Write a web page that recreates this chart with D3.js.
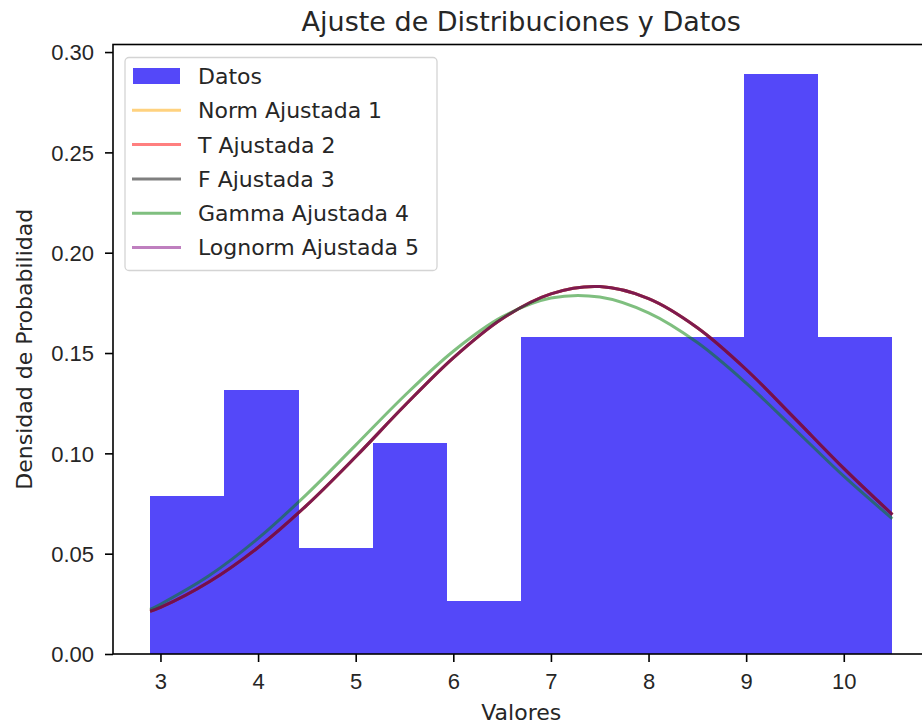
<!doctype html>
<html>

<head>
  <meta charset="UTF-8" />
  <title>Ajuste de Distribuciones y Datos</title>
  <style>
    html,
    body {
      margin: 0;
      background: #fff;
    }

    svg {
      font-family: "DejaVu Sans", sans-serif;
      display: block;
    }

    .axis path,
    .axis line {
      stroke: #000;
      stroke-width: 1.6px;
    }

    .axis text {
      fill: #262626;
      font-size: 22px;
    }
  </style>
</head>

<body>
  <script src="https://cdn.jsdelivr.net/npm/d3@7"></script>
  <script>
    // data
    const binEdges = [2.894, 3.654, 4.415, 5.175, 5.936, 6.696, 7.457, 8.217, 8.977, 9.738, 10.498];
    const density = [0.0789, 0.1315, 0.0526, 0.1052, 0.0263, 0.1578, 0.1578, 0.1578, 0.2893, 0.1578];

    const fitX = [2.894, 3.0, 3.5, 4.0, 4.5, 5.0, 5.5, 6.0, 6.5, 7.0, 7.5, 8.0, 8.5, 9.0, 9.5, 10.0, 10.498];
    // norm, t, F and lognorm fits land on top of each other in the picture
    const fitNorm = [0.0213, 0.0232, 0.0360, 0.0531, 0.0742, 0.0983, 0.1237, 0.1476, 0.1671, 0.1795, 0.1831, 0.1771, 0.1626, 0.1418, 0.1173, 0.0925, 0.0695];
    const fitT = fitNorm;
    const fitF = fitNorm;
    const fitLognorm = fitNorm;
    const fitGamma = [0.0222, 0.0248, 0.0391, 0.0576, 0.0797, 0.1041, 0.1287, 0.1509, 0.1680, 0.1774, 0.1779, 0.1700, 0.1552, 0.1350, 0.1119, 0.0886, 0.0674];

    const seriesNames = ['Norm Ajustada 1', 'T Ajustada 2', 'F Ajustada 3', 'Gamma Ajustada 4', 'Lognorm Ajustada 5'];
    const seriesValues = [fitNorm, fitT, fitF, fitGamma, fitLognorm];
    const seriesColors = ['orange', 'red', 'black', 'green', 'purple'];

    const yTicks = [0, 0.05, 0.10, 0.15, 0.20, 0.25, 0.30];
    const xTicks = [3, 4, 5, 6, 7, 8, 9, 10];

    // view
    const width = 922, height = 726;
    const barColor = '#5448f9';

    const svg = d3.select('body').append('svg')
      .attr('width', width)
      .attr('height', height);

    const xMin = binEdges[0], xMax = binEdges[binEdges.length - 1];
    const xPad = (xMax - xMin) * 0.05;
    const yMax = d3.max(density) * 1.05;

    // plot box, the right edge runs past the picture like in the original
    const box = { left: 113, right: 929.5, top: 44.5, bottom: 654 };

    const x = d3.scaleLinear()
      .domain([xMin - xPad, xMax + xPad])
      .range([box.left, box.right]);

    const y = d3.scaleLinear()
      .domain([0, yMax])
      .range([box.bottom, box.top]);

    // histogram bars
    svg.append('g')
      .attr('shape-rendering', 'crispEdges')
      .selectAll('rect')
      .data(density)
      .join('rect')
      .attr('x', (d, i) => x(binEdges[i]))
      .attr('width', (d, i) => x(binEdges[i + 1]) - x(binEdges[i]))
      .attr('y', d => y(d))
      .attr('height', d => y(0) - y(d))
      .attr('fill', barColor);

    // fitted curves
    const line = d3.line()
      .x((d, i) => x(fitX[i]))
      .y(d => y(d))
      .curve(d3.curveCatmullRom);

    svg.append('g')
      .selectAll('path')
      .data(seriesValues)
      .join('path')
      .attr('d', line)
      .attr('fill', 'none')
      .attr('stroke', (d, i) => seriesColors[i])
      .attr('stroke-opacity', 0.5)
      .attr('stroke-width', 3);

    // axes
    const xAxis = svg.append('g')
      .attr('class', 'axis')
      .attr('transform', `translate(0,${box.bottom})`)
      .call(d3.axisBottom(x).tickValues(xTicks).tickFormat(d3.format('d'))
        .tickSize(8).tickPadding(11).tickSizeOuter(0));
    xAxis.select('.domain').remove();

    const yAxis = svg.append('g')
      .attr('class', 'axis')
      .attr('transform', `translate(${box.left},0)`)
      .call(d3.axisLeft(y).tickValues(yTicks).tickFormat(d3.format('.2f'))
        .tickSize(8).tickPadding(11).tickSizeOuter(0));
    yAxis.select('.domain').remove();
    yAxis.selectAll('text').attr('dy', '0.36em');

    // spines
    svg.append('rect')
      .attr('x', box.left)
      .attr('y', box.top)
      .attr('width', box.right - box.left)
      .attr('height', box.bottom - box.top)
      .attr('fill', 'none')
      .attr('stroke', '#000')
      .attr('stroke-width', 1.6);

    // labels
    svg.append('text')
      .attr('x', (box.left + box.right) / 2)
      .attr('y', 31)
      .attr('text-anchor', 'middle')
      .attr('font-size', 27)
      .attr('fill', '#262626')
      .text('Ajuste de Distribuciones y Datos');

    svg.append('text')
      .attr('x', (box.left + box.right) / 2)
      .attr('y', 720)
      .attr('text-anchor', 'middle')
      .attr('font-size', 22)
      .attr('fill', '#262626')
      .text('Valores');

    svg.append('text')
      .attr('transform', `translate(32,${(box.top + box.bottom) / 2}) rotate(-90)`)
      .attr('text-anchor', 'middle')
      .attr('font-size', 22)
      .attr('fill', '#262626')
      .text('Densidad de Probabilidad');

    // legend
    const legend = svg.append('g');
    legend.append('rect')
      .attr('x', 125)
      .attr('y', 57.5)
      .attr('width', 312)
      .attr('height', 213)
      .attr('rx', 4)
      .attr('fill', '#fff')
      .attr('fill-opacity', 0.8)
      .attr('stroke', '#d4d4d4')
      .attr('stroke-width', 1.3);

    const rowY = i => 76 + i * 34.3;
    const legendItems = ['Datos'].concat(seriesNames);

    legend.append('rect')
      .attr('x', 133)
      .attr('y', rowY(0) - 8)
      .attr('width', 47)
      .attr('height', 16)
      .attr('fill', barColor);

    legend.selectAll('line')
      .data(seriesNames)
      .join('line')
      .attr('x1', 132)
      .attr('x2', 181)
      .attr('y1', (d, i) => rowY(i + 1))
      .attr('y2', (d, i) => rowY(i + 1))
      .attr('stroke', (d, i) => seriesColors[i])
      .attr('stroke-opacity', 0.5)
      .attr('stroke-width', 3);

    legend.selectAll('text')
      .data(legendItems)
      .join('text')
      .attr('x', 198)
      .attr('y', (d, i) => rowY(i))
      .attr('dy', '0.36em')
      .attr('font-size', 22)
      .attr('fill', '#262626')
      .text(d => d);
  </script>
</body>

</html>
